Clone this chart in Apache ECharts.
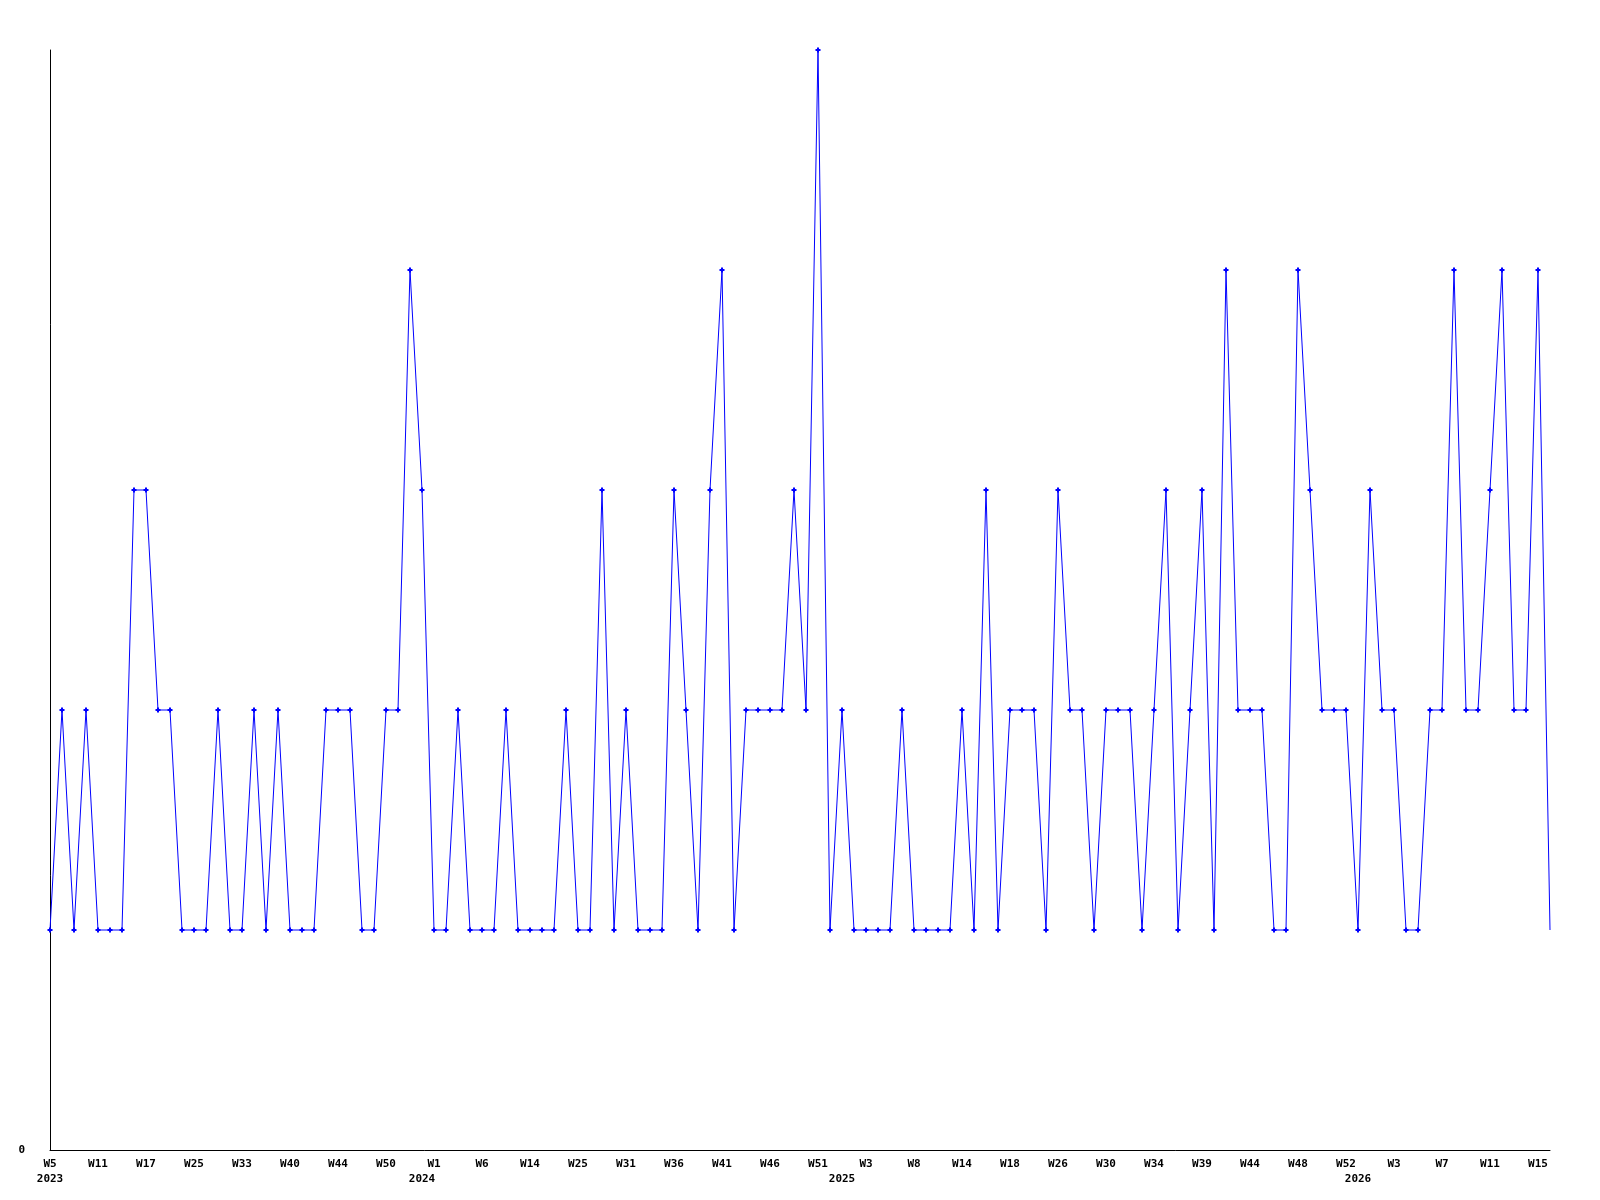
<!DOCTYPE html>
<html>
<head>
<meta charset="utf-8">
<script src="https://cdn.jsdelivr.net/npm/echarts@6/dist/echarts.min.js"></script>
<style>
  html, body { margin: 0; padding: 0; background: #ffffff; }
  #chart { width: 1600px; height: 1200px; }
</style>
</head>
<body>
<div id="chart"></div>
<script>
// Series values, one per plotted week (126 points, left to right)
const values = [
  1, 2, 1, 2, 1, 1, 1, 3, 3, 2,
  2, 1, 1, 1, 2, 1, 1, 2, 1, 2,
  1, 1, 1, 2, 2, 2, 1, 1, 2, 2,
  4, 3, 1, 1, 2, 1, 1, 1, 2, 1,
  1, 1, 1, 2, 1, 1, 3, 1, 2, 1,
  1, 1, 3, 2, 1, 3, 4, 1, 2, 2,
  2, 2, 3, 2, 5, 1, 2, 1, 1, 1,
  1, 2, 1, 1, 1, 1, 2, 1, 3, 1,
  2, 2, 2, 1, 3, 2, 2, 1, 2, 2,
  2, 1, 2, 3, 1, 2, 3, 1, 4, 2,
  2, 2, 1, 1, 4, 3, 2, 2, 2, 1,
  3, 2, 2, 1, 1, 2, 2, 4, 2, 2,
  3, 4, 2, 2, 4, 1
];

// Week tick labels, shown on every 4th point
const weekLabels = [
  'W5', 'W11', 'W17', 'W25', 'W33', 'W40', 'W44', 'W50',
  'W1', 'W6', 'W14', 'W25', 'W31', 'W36', 'W41', 'W46',
  'W51', 'W3', 'W8', 'W14', 'W18', 'W26', 'W30', 'W34',
  'W39', 'W44', 'W48', 'W52', 'W3', 'W7', 'W11', 'W15'
];
const weekLabelStep = 4;

// Year tick labels and the point index where each year's label sits
const yearLabels = ['2023', '2024', '2025', '2026'];
const yearLabelIndex = [0, 31, 66, 109];

const categories = values.map((_, i) => String(i));

const chart = echarts.init(document.getElementById('chart'), null, { renderer: 'canvas' });

const labelFont = {
  fontFamily: 'DejaVu Sans Mono',
  fontWeight: 'bold',
  fontSize: 11,
  color: '#000000'
};

chart.setOption({
  animation: false,
  backgroundColor: '#ffffff',
  grid: { left: 50, right: 50, top: 50, bottom: 50, containLabel: false },
  xAxis: [
    {
      type: 'category',
      data: categories,
      boundaryGap: false,
      position: 'bottom',
      axisLine: { show: true, lineStyle: { color: '#000000', width: 1 } },
      axisTick: { show: false },
      splitLine: { show: false },
      axisLabel: Object.assign({}, labelFont, {
        interval: 0,
        margin: 8,
        lineHeight: 12,
        formatter: function (v, idx) {
          return idx % weekLabelStep === 0 ? (weekLabels[idx / weekLabelStep] || '') : '';
        }
      })
    },
    {
      type: 'category',
      data: categories,
      boundaryGap: false,
      position: 'bottom',
      offset: 15,
      axisLine: { show: false },
      axisTick: { show: false },
      splitLine: { show: false },
      axisLabel: Object.assign({}, labelFont, {
        interval: 0,
        margin: 8,
        lineHeight: 12,
        formatter: function (v, idx) {
          const k = yearLabelIndex.indexOf(idx);
          return k >= 0 ? yearLabels[k] : '';
        }
      })
    }
  ],
  yAxis: {
    type: 'value',
    min: 0,
    max: 5,
    interval: 1,
    axisLine: { show: true, lineStyle: { color: '#000000', width: 1 } },
    axisTick: { show: false },
    splitLine: { show: false },
    axisLabel: Object.assign({}, labelFont, {
      margin: 25,
      formatter: function (v) { return v === 0 ? '0' : ''; }
    })
  },
  series: [
    {
      type: 'line',
      xAxisIndex: 0,
      data: values,
      color: '#0000ff',
      lineStyle: { color: '#0000ff', width: 1 },
      itemStyle: { color: '#0000ff' },
      symbol: 'path://M1.5,0H3.5V1.5H5V3.5H3.5V5H1.5V3.5H0V1.5H1.5Z',
      symbolSize: function (v, params) {
        return params.dataIndex === values.length - 1 ? 0 : 5;
      },
      showAllSymbol: true,
      smooth: false
    }
  ]
});
</script>
</body>
</html>
